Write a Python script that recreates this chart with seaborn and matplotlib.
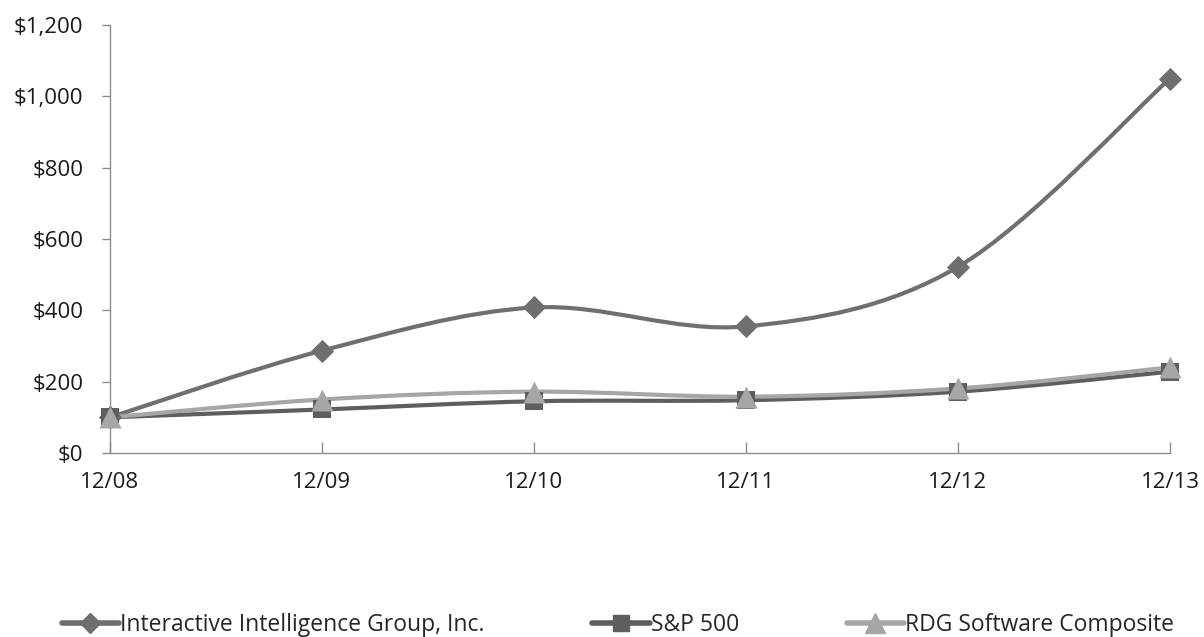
import matplotlib
matplotlib.use("Agg")
import matplotlib.pyplot as plt
import seaborn as sns
import numpy as np
import pandas as pd
from matplotlib.path import Path
from matplotlib.patches import PathPatch
from matplotlib.lines import Line2D

periods = ["12/08", "12/09", "12/10", "12/11", "12/12", "12/13"]
interactive = [100, 287, 408, 355, 522, 1050]
sp500 = [100, 122, 145, 148, 172, 228]
rdg = [100, 150, 172, 158, 181, 240]
series_names = ["Interactive Intelligence Group, Inc.", "S&P 500", "RDG Software Composite"]
y_ticks = [0, 200, 400, 600, 800, 1000, 1200]

colors = ["#6f6f6f", "#5e5e5e", "#a6a6a6"]
markers = ["D", "s", "^"]
msizes = [140, 170, 250]

sns.set_theme(style="white")
plt.rcParams['font.family'] = ['Open Sans', 'DejaVu Sans']

fig = plt.figure(figsize=(12.04, 6.37), dpi=100)
ax = fig.add_axes([110/1204, 1-453/637, (1170-110)/1204, (453-25)/637])

xs = np.arange(len(periods))

def smooth_path(x, y):
    x = np.asarray(x, float); y = np.asarray(y, float)
    verts = [(x[0], y[0])]
    codes = [Path.MOVETO]
    n = len(x)
    for i in range(n - 1):
        xp, yp = (x[i-1], y[i-1]) if i > 0 else (x[i], y[i])
        xn2, yn2 = (x[i+2], y[i+2]) if i + 2 < n else (x[i+1], y[i+1])
        c1 = (x[i] + (x[i+1] - xp) / 6, y[i] + (y[i+1] - yp) / 6)
        c2 = (x[i+1] - (xn2 - x[i]) / 6, y[i+1] - (yn2 - y[i]) / 6)
        verts += [c1, c2, (x[i+1], y[i+1])]
        codes += [Path.CURVE4] * 3
    return Path(verts, codes)

all_series = [interactive, sp500, rdg]
for name, vals, c, m, s in zip(series_names, all_series, colors, markers, msizes):
    patch = PathPatch(smooth_path(xs, vals), facecolor="none", edgecolor=c, lw=3.0,
                      capstyle="round", joinstyle="round", zorder=2, clip_on=False)
    ax.add_patch(patch)
    df = pd.DataFrame({"x": xs, "y": vals})
    sns.scatterplot(data=df, x="x", y="y", marker=m, s=s, color=c, edgecolor=c,
                    linewidth=0, ax=ax, zorder=3, legend=False, clip_on=False)

ax.set_xlim(0, 5)
ax.set_ylim(0, 1200)
ax.set_xticks(xs)
ax.set_xticklabels(periods)
ax.set_yticks(y_ticks)
ax.set_yticklabels([f"${v:,}" for v in y_ticks])
ax.set_xlabel("")
ax.set_ylabel("")

for side in ["top", "right"]:
    ax.spines[side].set_visible(False)
for side in ["left", "bottom"]:
    ax.spines[side].set_color("#8c8c8c")
    ax.spines[side].set_linewidth(1.0)
ax.tick_params(axis="y", which="major", direction="out", length=6, width=1,
               color="#8c8c8c", labelsize=16, pad=13, labelcolor="#1a1a1a")
ax.tick_params(axis="x", which="major", direction="in", length=8, width=1,
               color="#8c8c8c", labelsize=16, pad=14, labelcolor="#1a1a1a")
ax.tick_params(left=True, bottom=True)

handles = [Line2D([0], [0], color=c, lw=4, marker=m, markersize=ms, markerfacecolor=c,
                  markeredgecolor=c) for c, m, ms in zip(colors, markers, [10, 12, 14])]
fig.legend(handles, series_names, loc="center", bbox_to_anchor=(618/1204, 1-625/637), ncol=3,
           frameon=False, fontsize=16.5, handlelength=2.5, handletextpad=0.05,
           columnspacing=4.7, borderpad=0, borderaxespad=0)

fig.savefig("out.png", dpi=100)
